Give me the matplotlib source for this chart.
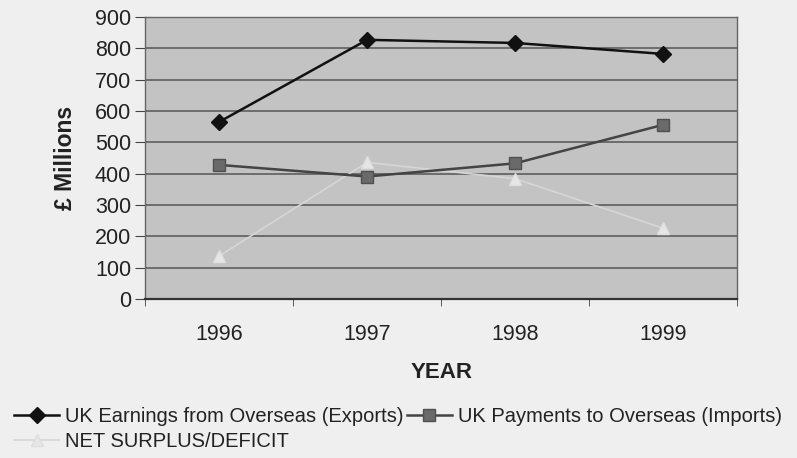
import matplotlib
matplotlib.use("Agg")
import matplotlib.pyplot as plt
from matplotlib.ticker import FixedLocator

plt.rcParams['font.family'] = ['Liberation Sans', 'DejaVu Sans']

years = ['1996', '1997', '1998', '1999']
exports = [565, 827, 817, 782]
imports = [428, 391, 433, 556]
net = [137, 436, 384, 226]

fig = plt.figure(figsize=(7.97, 4.58), dpi=100)
fig.patch.set_facecolor('#efefef')
ax = fig.add_axes([0.182, 0.347, 0.743, 0.616])
ax.set_facecolor('#c3c3c3')

x = range(len(years))
l1, = ax.plot(x, exports, color='#111111', lw=1.8, marker='D', markersize=8,
              markerfacecolor='#111111', markeredgecolor='#111111', zorder=5,
              label='UK Earnings from Overseas (Exports)')
l2, = ax.plot(x, imports, color='#444444', lw=1.8, marker='s', markersize=9,
              markerfacecolor='#6a6a6a', markeredgecolor='#505050', zorder=4,
              label='UK Payments to Overseas (Imports)')
l3, = ax.plot(x, net, color='#d6d6d6', lw=1.2, marker='^', markersize=9,
              markerfacecolor='#e6e6e6', markeredgecolor='#dedede', zorder=3,
              label='NET SURPLUS/DEFICIT')

ax.set_xlim(-0.5, 3.5)
ax.set_ylim(0, 900)
ax.set_yticks(range(0, 901, 100))
ax.yaxis.grid(True, color='#555555', lw=1.1)
ax.set_axisbelow(True)

ax.set_xticks(list(x))
ax.set_xticklabels(years)
ax.xaxis.set_minor_locator(FixedLocator([-0.5, 0.5, 1.5, 2.5, 3.5]))
ax.tick_params(axis='x', which='major', length=0, pad=18, labelsize=15.5, colors='#222222')
ax.tick_params(axis='x', which='minor', length=5, color='#444444', direction='out')
ax.tick_params(axis='y', length=7, color='#444444', pad=3, labelsize=15.5, colors='#222222')

for s in ax.spines.values():
    s.set_color('#666666')
    s.set_linewidth(1.0)
ax.spines['bottom'].set_color('#333333')
ax.spines['bottom'].set_linewidth(1.6)

ax.set_ylabel('£ Millions', fontsize=16.5, fontweight='bold', color='#222222', labelpad=13)
ax.set_xlabel('YEAR', fontsize=16, fontweight='bold', color='#222222', labelpad=12)

fig.legend([l1, l3, l2], [l1.get_label(), l3.get_label(), l2.get_label()],
           loc='upper left', bbox_to_anchor=(0.008, 1 - 399 / 458), ncol=2,
           frameon=False, fontsize=14.5, handlelength=2.2, handletextpad=0.3,
           columnspacing=0.2, labelspacing=0.3, borderaxespad=0, labelcolor='#222222')

fig.savefig('out.png', dpi=100, facecolor=fig.get_facecolor())
